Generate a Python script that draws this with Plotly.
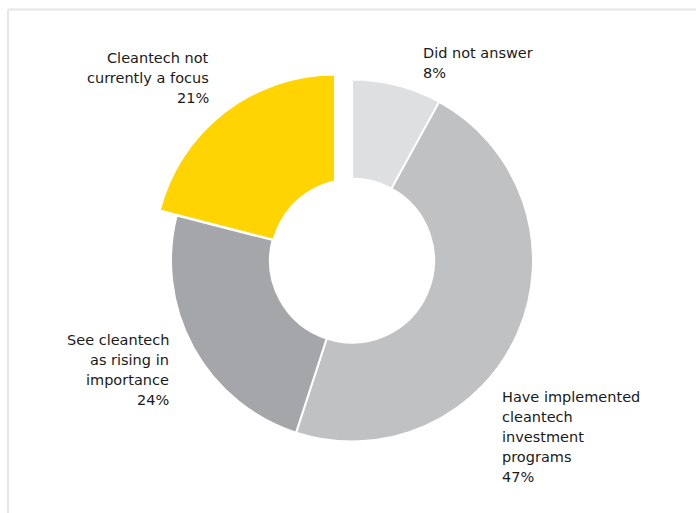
import plotly.graph_objects as go

# Survey answers, clockwise from 12 o'clock
categories = [
    "Did not answer",
    "Have implemented cleantech investment programs",
    "See cleantech as rising in importance",
    "Cleantech not currently a focus",
]
shares = [8, 47, 24, 21]
label_lines = [
    ["Did not answer"],
    ["Have implemented", "cleantech", "investment", "programs"],
    ["See cleantech", "as rising in", "importance"],
    ["Cleantech not", "currently a focus"],
]
slice_colors = ["#DEDFE0", "#C0C1C3", "#A5A6A9", "#FFD400"]
highlight = 3  # slice drawn offset from the ring

W, H = 696, 513
TRANSPARENT = "rgba(0,0,0,0)"


def fx(px):
    return px / W


def fy(py):
    return 1 - py / H


def domain(cx, cy, r):
    return dict(x=[fx(cx - r), fx(cx + r)], y=[fy(cy + r), fy(cy - r)])


ring_c, ring_r, hole_r = (352, 260.5), 181, 82
off_c = (335, 255.5)

ring_colors = [TRANSPARENT if i == highlight else c for i, c in enumerate(slice_colors)]
ring_lines = [TRANSPARENT if i == highlight else "white" for i in range(len(shares))]
off_colors = [c if i == highlight else TRANSPARENT for i, c in enumerate(slice_colors)]
off_lines = ["white" if i == highlight else TRANSPARENT for i in range(len(shares))]

fig = go.Figure()
fig.add_trace(go.Pie(
    labels=categories, values=shares, sort=False, direction="clockwise", rotation=0,
    hole=hole_r / ring_r, textinfo="none", hoverinfo="label+percent",
    marker=dict(colors=ring_colors, line=dict(color=ring_lines, width=2)),
    domain=domain(*ring_c, ring_r), showlegend=False,
))
fig.add_trace(go.Pie(
    labels=categories, values=shares, sort=False, direction="clockwise", rotation=0,
    textinfo="none", hoverinfo="label+percent",
    marker=dict(colors=off_colors, line=dict(color=off_lines, width=2)),
    domain=domain(*off_c, ring_r), showlegend=False,
))

shapes = [
    # centre of the ring
    dict(type="circle", layer="above", xref="paper", yref="paper",
         xsizemode="pixel", ysizemode="pixel",
         xanchor=fx(ring_c[0]), yanchor=fy(ring_c[1]),
         x0=-hole_r, x1=hole_r, y0=-hole_r, y1=hole_r,
         fillcolor="white", line=dict(width=0)),
    # panel frame
    dict(type="line", xref="paper", yref="paper", x0=fx(8), x1=1, y0=fy(9.5), y1=fy(9.5),
         line=dict(color="#E6E6E6", width=2)),
    dict(type="line", xref="paper", yref="paper", x0=fx(8), x1=fx(8), y0=fy(9.5), y1=0,
         line=dict(color="#E6E6E6", width=2)),
]

# label anchors: (x, y of first line, anchor side)
label_pos = [
    (421, 53.5, "left"),
    (499.5, 397, "left"),
    (170.5, 340.3, "right"),
    (210.5, 58, "right"),
]
line_step = 20
annotations = []
for lines, share, (lx, ly, side) in zip(label_lines, shares, label_pos):
    for k, txt in enumerate(lines + [f"{share}%"]):
        annotations.append(dict(
            text=txt, x=fx(lx), y=fy(ly + k * line_step), xref="paper", yref="paper",
            xanchor=side, yanchor="middle", align=side, showarrow=False,
            font=dict(family="DejaVu Sans", size=14.5, color="#1A1A1A"),
        ))

fig.update_layout(
    width=W, height=H, margin=dict(l=0, r=0, t=0, b=0),
    paper_bgcolor="white", plot_bgcolor="white",
    shapes=shapes, annotations=annotations,
)

fig.write_html("out.html")
